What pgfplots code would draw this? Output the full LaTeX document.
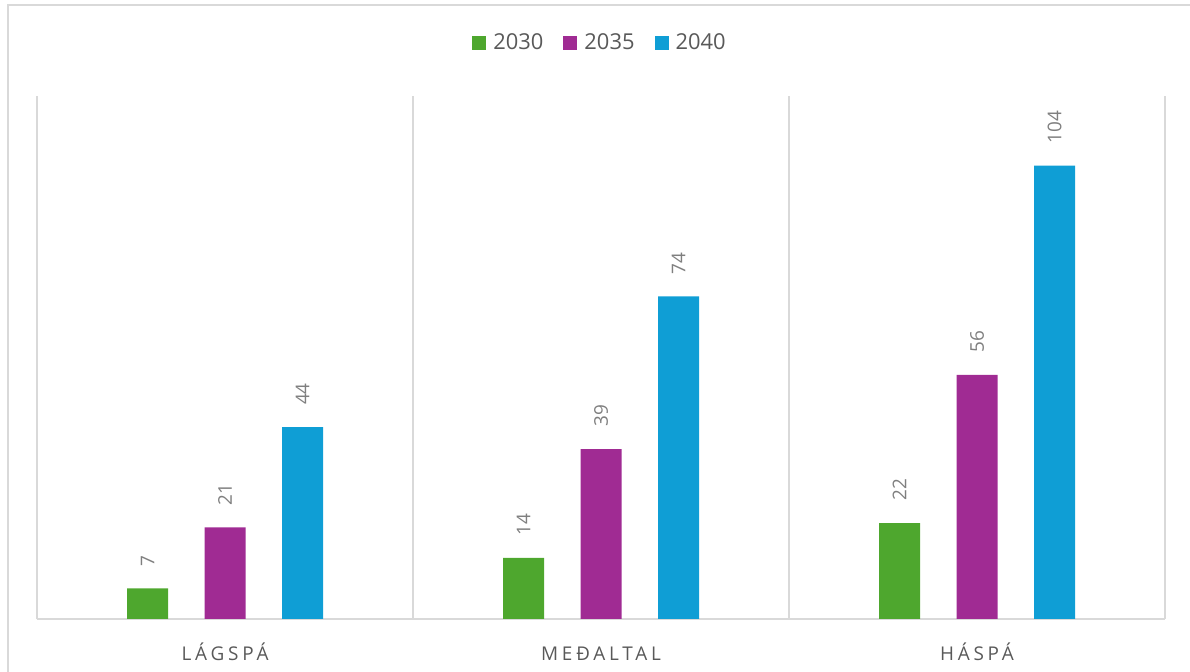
\documentclass[border=0pt]{standalone}
\usepackage{fontspec}
\setmainfont{Open Sans}
\newfontfamily\catfont[LetterSpace=20]{Open Sans}
\usepackage{pgfplots}
\pgfplotsset{compat=1.18}
\definecolor{cgreen}{HTML}{4EA72E}
\definecolor{cpurple}{HTML}{A02B93}
\definecolor{cblue}{HTML}{0F9ED5}
\definecolor{gridc}{HTML}{D9D9D9}
\definecolor{txtc}{HTML}{595959}
\definecolor{lblc}{HTML}{7F7F7F}
\begin{document}
\begin{tikzpicture}
\path[use as bounding box] (0,0) rectangle (595bp,336bp);
\draw[gridc, line width=0.8bp] (4bp,-5bp) rectangle (600bp,333.5bp);
\begin{axis}[
  at={(18.5bp,26.5bp)}, anchor=south west,
  scale only axis, width=564bp, height=261.5bp,
  xmin=-0.5, xmax=2.5, ymin=0, ymax=120,
  /pgf/number format/assume math mode=true,
  axis x line=bottom, axis y line=none,
  x axis line style={-, draw=gridc, line width=0.9bp},
  ytick=\empty,
  xtick={-0.5,0.5,1.5,2.5}, xticklabels={},
  xmajorgrids, grid style={draw=gridc, line width=0.8bp},
  major x tick style={draw=none},
  extra x ticks={0,1,2},
  extra x tick labels={L\'AGSP\'A, ME\DJ ALTAL, H\'ASP\'A},
  extra x tick style={grid=none, major x tick style={draw=none},
    xticklabel style={font=\catfont\fontsize{9.5}{11}\selectfont, text=txtc, anchor=base, yshift=-16.5bp}},
  ybar, bar width=20.5bp,
  nodes near coords,
  every node near coord/.append style={rotate=90, anchor=west, inner xsep=11bp, inner ysep=0pt,
    font=\fontsize{9.5}{11}\selectfont, text=lblc},
  legend columns=3,
  legend style={draw=none, at={(0.5,1.1013)}, anchor=center,
    font=\fontsize{11}{13}\selectfont, text=txtc,
    /tikz/every odd column/.append style={column sep=1.5bp},
    /tikz/every even column/.append style={column sep=8bp}},
  legend image code/.code={\fill[#1] (0bp,-3.5bp) rectangle (7bp,3.5bp);},
]
\addplot[fill=cgreen, draw=none, bar shift=-38.75bp] coordinates {(0,7) (1,14) (2,22)};
\addplot[fill=cpurple, draw=none, bar shift=0bp] coordinates {(0,21) (1,39) (2,56)};
\addplot[fill=cblue, draw=none, bar shift=38.75bp] coordinates {(0,44) (1,74) (2,104)};
\legend{2030,2035,2040}
\end{axis}
\end{tikzpicture}
\end{document}
